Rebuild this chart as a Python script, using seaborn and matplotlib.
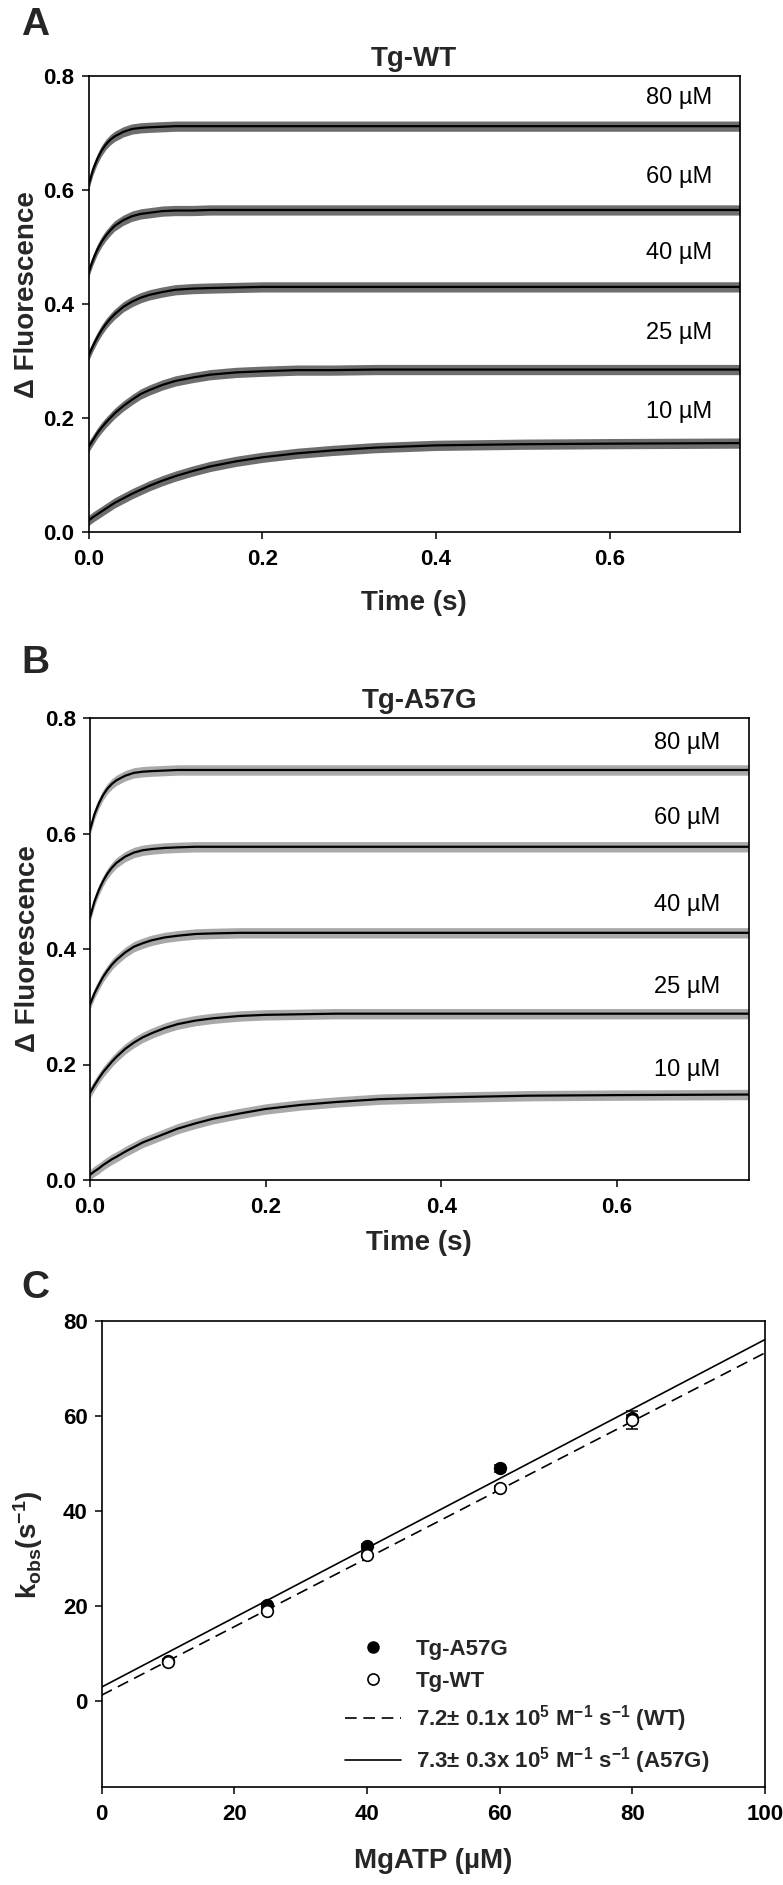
"""
Stopped-flow traces (Tg-WT / Tg-A57G) and kobs vs MgATP.
Saves out.png (783 x 1885 px).
"""

import numpy as np
import pandas as pd
import matplotlib
matplotlib.use('Agg')
import matplotlib.pyplot as plt
import seaborn as sns
from matplotlib.lines import Line2D

sns.set_theme(style='ticks')
# font settings must come after set_theme
plt.rcParams['font.family'] = ['Liberation Sans', 'DejaVu Sans']
plt.rcParams['font.weight'] = 'bold'
plt.rcParams['axes.labelweight'] = 'bold'
plt.rcParams['axes.titleweight'] = 'bold'
plt.rcParams['mathtext.fontset'] = 'custom'
plt.rcParams['mathtext.rm'] = 'Liberation Sans:bold'
plt.rcParams['mathtext.bf'] = 'Liberation Sans:bold'
plt.rcParams['mathtext.it'] = 'Liberation Sans:bold'
plt.rcParams['mathtext.default'] = 'bf'

# ---- panel A / B : fitted traces ----
TIME = [0, 0.005, 0.01, 0.015, 0.02, 0.025, 0.03, 0.04, 0.05, 0.06, 0.07, 0.085,
        0.1, 0.12, 0.14, 0.17, 0.2, 0.24, 0.28, 0.33, 0.4, 0.5, 0.6, 0.75]
CONC_LABELS = ['80 µM', '60 µM', '40 µM', '25 µM', '10 µM']

WT_80 = [0.608, 0.635, 0.654, 0.669, 0.680, 0.688, 0.694, 0.702, 0.707, 0.709,
         0.710, 0.711, 0.712, 0.712, 0.712, 0.712, 0.712, 0.712, 0.712, 0.712,
         0.712, 0.712, 0.712, 0.712]
WT_60 = [0.455, 0.477, 0.495, 0.509, 0.520, 0.529, 0.537, 0.547, 0.554, 0.558,
         0.560, 0.563, 0.564, 0.564, 0.565, 0.565, 0.565, 0.565, 0.565, 0.565,
         0.565, 0.565, 0.565, 0.565]
WT_40 = [0.309, 0.326, 0.341, 0.354, 0.365, 0.374, 0.382, 0.395, 0.404, 0.411,
         0.416, 0.421, 0.425, 0.427, 0.428, 0.429, 0.430, 0.430, 0.430, 0.430,
         0.430, 0.430, 0.430, 0.430]
WT_25 = [0.149, 0.161, 0.173, 0.183, 0.192, 0.200, 0.208, 0.221, 0.232, 0.242,
         0.249, 0.258, 0.265, 0.271, 0.276, 0.280, 0.282, 0.284, 0.284, 0.285,
         0.285, 0.285, 0.285, 0.285]
WT_10 = [0.020, 0.026, 0.031, 0.036, 0.041, 0.046, 0.051, 0.059, 0.067, 0.074,
         0.081, 0.090, 0.098, 0.107, 0.115, 0.124, 0.131, 0.138, 0.143, 0.148,
         0.152, 0.154, 0.155, 0.156]

A57G_80 = [0.606, 0.633, 0.652, 0.667, 0.678, 0.686, 0.692, 0.700, 0.705, 0.707,
           0.708, 0.709, 0.710, 0.710, 0.710, 0.710, 0.710, 0.710, 0.710, 0.710,
           0.710, 0.710, 0.710, 0.710]
A57G_60 = [0.455, 0.482, 0.502, 0.518, 0.531, 0.541, 0.549, 0.560, 0.567, 0.571,
           0.573, 0.575, 0.576, 0.577, 0.577, 0.577, 0.577, 0.577, 0.577, 0.577,
           0.577, 0.577, 0.577, 0.577]
A57G_40 = [0.304, 0.323, 0.338, 0.352, 0.363, 0.373, 0.381, 0.394, 0.404, 0.410,
           0.415, 0.420, 0.423, 0.426, 0.427, 0.428, 0.428, 0.428, 0.428, 0.428,
           0.428, 0.428, 0.428, 0.428]
A57G_25 = [0.151, 0.164, 0.176, 0.187, 0.196, 0.205, 0.213, 0.227, 0.238, 0.247,
           0.254, 0.263, 0.270, 0.276, 0.280, 0.284, 0.286, 0.287, 0.288, 0.288,
           0.288, 0.288, 0.288, 0.288]
A57G_10 = [0.009, 0.015, 0.020, 0.026, 0.031, 0.036, 0.040, 0.049, 0.057, 0.065,
           0.071, 0.080, 0.089, 0.098, 0.106, 0.115, 0.123, 0.130, 0.135, 0.140,
           0.143, 0.146, 0.147, 0.148]

# spread of the raw (noisy) signal around each fit
NOISE_HALF_WIDTH = 0.009

LABEL_Y_WT = [0.761, 0.623, 0.489, 0.349, 0.211]
LABEL_Y_A57G = [0.757, 0.627, 0.476, 0.334, 0.190]

# ---- panel C ----
MGATP = [10, 25, 40, 60, 80]
KOBS_WT = [8.3, 19.0, 30.8, 44.8, 59.2]
ERR_WT = [0.5, 0.5, 0.5, 0.5, 1.9]
KOBS_A57G = [8.6, 20.2, 32.6, 49.0, 59.5]
ERR_A57G = [0.4, 0.5, 0.6, 0.7, 0.8]
FIT_X = [0, 100]
FIT_WT = [1.3, 73.3]
FIT_A57G = [3.0, 76.1]

W, H = 783, 1885


def px_axes(left, top, right, bottom):
    """axes rectangle from pixel edges"""
    return [left / W, 1 - bottom / H, (right - left) / W, (bottom - top) / H]


def style_axes(ax):
    for sp in ax.spines.values():
        sp.set_visible(True)
        sp.set_color('black')
        sp.set_linewidth(1.2)
    ax.tick_params(direction='out', length=5, width=1.1, color='black',
                   labelsize=16, labelcolor='black')
    ax.tick_params(axis='x', pad=7)
    ax.tick_params(axis='y', pad=5)
    ax.grid(False)


def draw_traces(ax, curves, noise_color, label_y, title):
    df = pd.DataFrame({
        't': TIME * len(curves),
        'signal': sum(curves, []),
        'conc': np.repeat(CONC_LABELS, len(TIME)),
    })
    for y in curves:
        y = np.array(y)
        ax.fill_between(TIME, y - NOISE_HALF_WIDTH, y + NOISE_HALF_WIDTH,
                        color=noise_color, lw=0)
    sns.lineplot(data=df, x='t', y='signal', hue='conc', hue_order=CONC_LABELS,
                 palette=['black'] * len(curves), legend=False, lw=1.6, ax=ax)
    for lab, ly in zip(CONC_LABELS, label_y):
        ax.text(0.718, ly, lab, ha='right', va='center', fontsize=17,
                fontweight='normal', color='black')
    ax.set_xlim(0, 0.75)
    ax.set_ylim(0, 0.8)
    ax.set_xticks([0.0, 0.2, 0.4, 0.6])
    ax.set_yticks([0.0, 0.2, 0.4, 0.6, 0.8])
    ax.xaxis.set_major_formatter('{x:.1f}')
    ax.yaxis.set_major_formatter('{x:.1f}')
    ax.set_title(title, fontsize=20, pad=7)
    ax.set_xlabel('Time (s)', fontsize=20)
    ax.set_ylabel('Δ Fluorescence', fontsize=20)
    style_axes(ax)


fig = plt.figure(figsize=(W / 100, H / 100), dpi=100)

# A
ax_a = fig.add_axes(px_axes(88.5, 76, 740, 532))
draw_traces(ax_a, [WT_80, WT_60, WT_40, WT_25, WT_10], '#6e6e6e',
            LABEL_Y_WT, 'Tg-WT')
ax_a.yaxis.set_label_coords(-0.075, 0.52)
ax_a.xaxis.set_label_coords(0.5, -0.128)

# B
ax_b = fig.add_axes(px_axes(90, 718, 748.5, 1180))
draw_traces(ax_b, [A57G_80, A57G_60, A57G_40, A57G_25, A57G_10], '#a9a9a9',
            LABEL_Y_A57G, 'Tg-A57G')
ax_b.yaxis.set_label_coords(-0.075, 0.5)
ax_b.xaxis.set_label_coords(0.5, -0.108)

# C
ax_c = fig.add_axes(px_axes(101.5, 1321, 765, 1787))
fit_df = pd.DataFrame({'x': FIT_X * 2, 'k': FIT_WT + FIT_A57G,
                       'fit': ['WT'] * 2 + ['A57G'] * 2})
sns.lineplot(data=fit_df, x='x', y='k', style='fit', style_order=['WT', 'A57G'],
             dashes={'WT': (7, 4), 'A57G': ''}, color='black', lw=1.2,
             legend=False, ax=ax_c)
ax_c.errorbar(MGATP, KOBS_A57G, yerr=ERR_A57G, fmt='none', ecolor='black',
              elinewidth=1.1, capsize=4, capthick=1.1, zorder=3)
ax_c.errorbar(MGATP, KOBS_WT, yerr=ERR_WT, fmt='none', ecolor='black',
              elinewidth=1.1, capsize=4, capthick=1.1, zorder=3)
sns.scatterplot(x=MGATP, y=KOBS_A57G, marker='o', s=70, color='black',
                edgecolor='black', linewidth=1.2, zorder=4, ax=ax_c)
sns.scatterplot(x=MGATP, y=KOBS_WT, marker='o', s=70, color='white',
                edgecolor='black', linewidth=1.2, zorder=5, ax=ax_c)
ax_c.set_xlim(0, 100)
ax_c.set_ylim(-18, 80)
ax_c.set_xticks([0, 20, 40, 60, 80, 100])
ax_c.set_yticks([0, 20, 40, 60, 80])
ax_c.set_xlabel('MgATP (µM)', fontsize=20)
ax_c.set_ylabel('k$_{obs}$(s$^{-1}$)', fontsize=20)
ax_c.yaxis.set_label_coords(-0.085, 0.52)
ax_c.xaxis.set_label_coords(0.5, -0.13)
style_axes(ax_c)

handles = [
    Line2D([], [], marker='o', ls='none', mfc='black', mec='black', ms=8),
    Line2D([], [], marker='o', ls='none', mfc='white', mec='black', ms=8, mew=1.2),
    Line2D([], [], color='black', ls=(0, (7, 4)), lw=1.2),
    Line2D([], [], color='black', lw=1.2),
]
labels = [
    'Tg-A57G',
    'Tg-WT',
    '7.2± 0.1x 10$^{5}$ M$^{-1}$ s$^{-1}$ (WT)',
    '7.3± 0.3x 10$^{5}$ M$^{-1}$ s$^{-1}$ (A57G)',
]
ax_c.legend(handles, labels, loc='upper left', bbox_to_anchor=(0.367, 0.318),
            frameon=False, fontsize=16, handlelength=2.5, handletextpad=0.7,
            labelspacing=0.5, borderpad=0, borderaxespad=0)

# panel letters
for letter, y_px in [('A', 25), ('B', 663), ('C', 1288)]:
    fig.text(35 / W, 1 - y_px / H, letter, ha='center', va='center',
             fontsize=28, fontweight='bold')

fig.savefig('out.png', dpi=100)
plt.close(fig)
